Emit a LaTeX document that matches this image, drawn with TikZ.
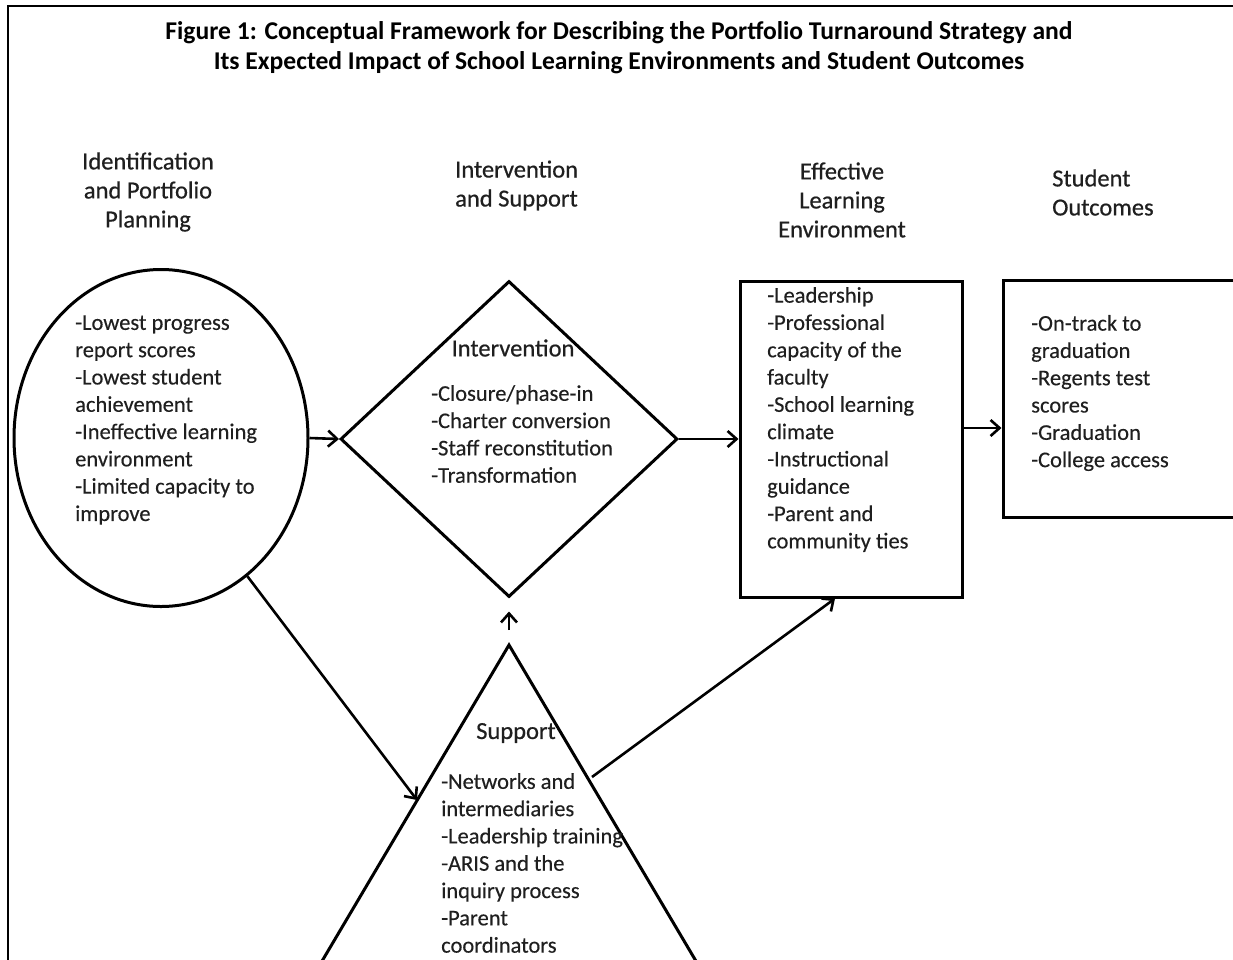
\documentclass[tikz,border=0pt]{standalone}
\usepackage{fontspec}
\setmainfont{Carlito}
\newfontfamily\bodyfont{Carlito}[FakeBold=0.3]
\newfontfamily\headfont{Carlito}[FakeBold=0.6]
\usetikzlibrary{shapes.geometric,arrows.meta}
\begin{document}
\begin{tikzpicture}[x=1pt,y=-1pt,
  shp/.style={draw,line width=3pt,inner sep=0pt},
  conn/.style={line width=2.6pt,-{Straight Barb[length=9pt,width=16pt,line width=2.6pt]}},
  lbl/.style={font=\bodyfont\fontsize{22.5}{27.3}\selectfont,inner sep=0pt,align=left,anchor=west,text=black!88},
  head/.style={font=\headfont\fontsize{24.5}{29}\selectfont,inner sep=0pt,align=center,text=black!88},
  ttl/.style={font=\bfseries\fontsize{25.6}{30}\selectfont,inner sep=0pt,align=center}]
\useasboundingbox (0,0) rectangle (1233,959);
\clip (0,0) rectangle (1233,959);
% frame
\draw[line width=2.6pt] (8,990) -- (8,6) -- (1260,6);
% title
\node[ttl] (title) at (619,48) {Figure 1: Conceptual Framework for Describing the Portfolio Turnaround Strategy and\\Its Expected Impact of School Learning Environments and Student Outcomes};
% headings
\node[head] (h1) at (148,192) {Identification\\and Portfolio\\Planning};
\node[head,align=left,anchor=west] (h2) at (455,185.5) {Intervention\\and Support};
\node[head] (h3) at (842,200) {Effective\\Learning\\Environment};
\node[head,align=left,anchor=west] (h4) at (1052,192.5) {Student\\Outcomes};
% shapes
\node[shp,ellipse,minimum width=294pt,minimum height=337pt] (ident) at (161,438) {};
\node[shp,diamond,minimum width=337pt,minimum height=316pt] (interv) at (509,439) {};
\node[shp,rectangle,minimum width=222pt,minimum height=316pt] (ele) at (851,439) {};
\node[shp,rectangle,minimum width=260pt,minimum height=237pt] (outc) at (1133,398.5) {};
\draw[line width=3pt,line join=miter] (299,1000) -- (509,645) -- (719,1000);
\coordinate (supApex) at (509,645);
\coordinate (supL) at (417,800);
\coordinate (supR) at (592,777);
% texts
\node[lbl] (t1) at (75,420) {-Lowest progress\\report scores\\-Lowest student\\achievement\\-Ineffective learning\\environment\\-Limited capacity to\\improve};
\node[head] (t2h) at (513,348) {Intervention};
\node[lbl] (t2) at (431,434) {-Closure/phase-in\\-Charter conversion\\-Staff reconstitution\\-Transformation};
\node[head] (t3h) at (516,733) {Support};
\node[lbl] (t3) at (441,863) {-Networks and\\intermediaries\\-Leadership training\\-ARIS and the\\inquiry process\\-Parent\\coordinators};
\node[lbl] (t4) at (767,419.5) {-Leadership\\-Professional\\capacity of the\\faculty\\-School learning\\climate\\-Instructional\\guidance\\-Parent and\\community ties};
\node[lbl] (t5) at (1031,393) {-On-track to\\graduation\\-Regents test\\scores\\-Graduation\\-College access};
% connectors
\draw[conn] (ident.east) -- (interv.west);
\draw[conn] (interv.east) -- (ele.west);
\draw[conn] ([yshift=11pt]ele.east) coordinate (a1) -- (a1 -| outc.west);
\draw[conn] (ident.-58) -- (supL);
\draw[conn] (supR) -- ([xshift=-16pt]ele.south);
\draw[conn] ([yshift=15pt]supApex) -- ([yshift=-13pt]interv.south);
\end{tikzpicture}
\end{document}
